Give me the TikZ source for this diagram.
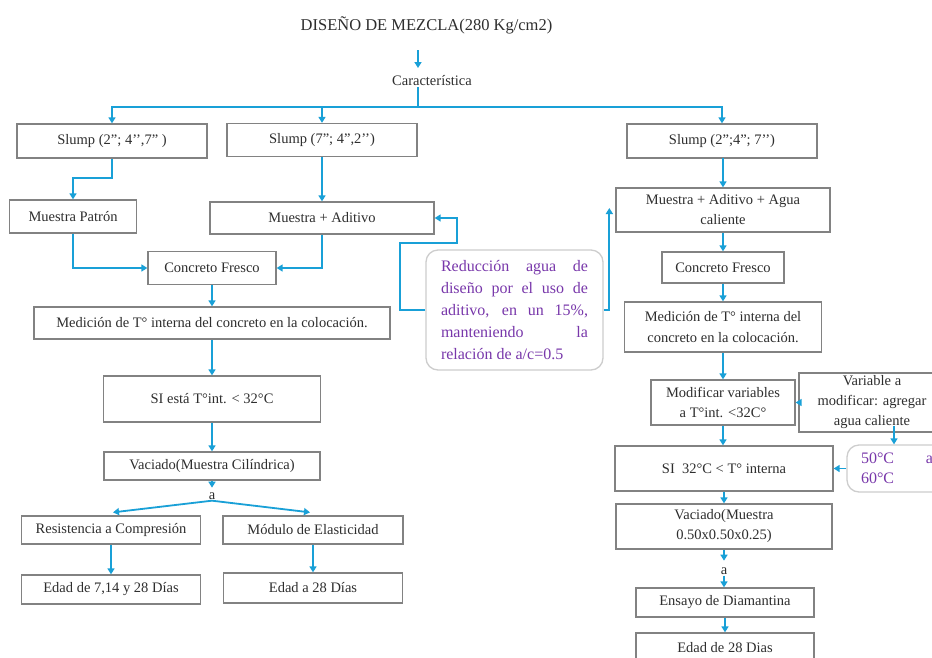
\documentclass[tikz,border=0pt]{standalone}
\usepackage{fontspec}
\setmainfont{Liberation Serif}
\usetikzlibrary{arrows.meta}
\definecolor{conn}{RGB}{25,160,215}
\definecolor{boxgray}{RGB}{130,130,130}
\definecolor{softgray}{RGB}{205,205,205}
\definecolor{purp}{RGB}{120,55,170}
\tikzset{
  box/.style={draw=boxgray, line width=1.3pt, fill=white, inner sep=1pt, align=center,
    font=\fontsize{14.5}{20}\selectfont, text=black!82},
  softbox/.style={draw=softgray, line width=1.3pt, fill=white, rounded corners=12pt, inner sep=1pt,
    align=justify, font=\fontsize{16}{22}\selectfont, text=purp},
  lbl/.style={inner sep=1pt, font=\fontsize{14.5}{18}\selectfont, text=black!82},
  ttl/.style={inner sep=1pt, font=\fontsize{16.5}{20}\selectfont, text=black!82},
  wire/.style={draw=conn, line width=1.8pt},
  arr/.style={wire, -{Triangle[length=6pt,width=7pt]}}
}
\begin{document}
\begin{tikzpicture}[x=1pt,y=-1pt]
\useasboundingbox (0,0) rectangle (932,657);
\clip (0,0) rectangle (932,657);
\fill[white] (0,0) rectangle (932,657);

% title
\node[ttl] (title) at (426.5,25) {DISEÑO DE MEZCLA(280 Kg/cm2)};
\node[lbl] (car) at (432,81) {Característica};
\coordinate (t1) at (418,50);
\coordinate (t2) at (418,68);
\coordinate (hub) at (418,107);

% left column
\node[box, minimum width=190pt, minimum height=34pt] (s1) at (112,141) {Slump (2”; 4’’,7” )};
\node[box, minimum width=190pt, minimum height=33pt] (s2) at (322,140) {Slump (7”; 4”,2’’)};
\node[box, minimum width=127pt, minimum height=33pt] (mp) at (73,216.5) {Muestra Patrón};
\node[box, minimum width=224pt, minimum height=32pt] (ma) at (322,218) {Muestra + Aditivo};
\node[box, minimum width=128pt, minimum height=33pt] (cf1) at (212,268) {Concreto Fresco};
\node[box, minimum width=356pt, minimum height=32pt] (med1) at (212,323) {Medición de T° interna del concreto en la colocación.};
\node[box, minimum width=217pt, minimum height=46pt] (si1) at (212,399) {SI está T°int. < 32°C};
\node[box, minimum width=216pt, minimum height=28pt] (vac1) at (212,466) {Vaciado(Muestra Cilíndrica)};
\node[lbl] (a1) at (212,496) {a};
\node[box, minimum width=179pt, minimum height=28pt] (res) at (111,530) {Resistencia a Compresión};
\node[box, minimum width=180pt, minimum height=28pt] (mod) at (313,530) {Módulo de Elasticidad};
\node[box, minimum width=179pt, minimum height=29pt] (ed1) at (111,589.5) {Edad de 7,14 y 28 Días};
\node[box, minimum width=179pt, minimum height=30pt] (ed2) at (313,588) {Edad a 28 Días};

% note
\node[softbox, minimum width=177pt, minimum height=120pt, text width=147pt] (red) at (514.5,310)
  {Reducción agua de\linebreak diseño por el uso de\linebreak aditivo, en un 15\%,\linebreak manteniendo la\linebreak relación de a/c=0.5};

% right column
\node[box, minimum width=190pt, minimum height=34pt] (s3) at (722,141) {Slump (2”;4”; 7’’)};
\node[box, minimum width=214pt, minimum height=44pt] (mac) at (723,210) {Muestra + Aditivo + Agua\\caliente};
\node[box, minimum width=122pt, minimum height=31pt] (cf2) at (723,267.5) {Concreto Fresco};
\node[box, minimum width=197pt, minimum height=50pt, font=\fontsize{14.5}{21}\selectfont] (med2) at (723,327) {Medición de T° interna del\\concreto en la colocación.};
\node[box, minimum width=144pt, minimum height=45pt] (modv) at (723,402.5) {Modificar variables\\a T°int. <32C°};
\node[box, minimum width=146pt, minimum height=59pt] (var) at (872,402.5) {Variable a\\modificar: agregar\\agua caliente};
\node[box, minimum width=218pt, minimum height=45pt] (si2) at (724,468.5) {SI\ \ 32°C < T° interna};
\node[softbox, minimum width=100pt, minimum height=47pt, text width=72pt, font=\fontsize{16}{20}\selectfont] (t50) at (897,468.5) {50°C a\linebreak 60°C};
\node[box, minimum width=216pt, minimum height=45pt] (vac2) at (724,526.5) {Vaciado(Muestra\\0.50x0.50x0.25)};
\node[lbl] (a2) at (724,571) {a};
\node[box, minimum width=178pt, minimum height=29pt] (ens) at (725,602.5) {Ensayo de Diamantina};
\node[box, minimum width=178pt, minimum height=30pt] (ed3) at (725,648) {Edad de 28 Dias};

% connectors top
\draw[arr] (t1) -- (t2);
\draw[wire] (car.south -| hub) -- (hub);
\draw[arr] (hub) -| (s1.north);
\draw[arr] (hub) -| (s3.north);
\draw[arr] (hub -| s2.north) -- (s2.north);

% left
\draw[arr] (s1.south) -- ++(0,19) -| (mp.north);
\draw[arr] (s2.south) -- (s2.south |- ma.north);
\draw[arr] (mp.south) |- (cf1.west);
\draw[arr] (ma.south) |- (cf1.east);
\draw[arr] (cf1.south) -- (cf1.south |- med1.north);
\draw[arr] (med1.south) -- (med1.south |- si1.north);
\draw[arr] (si1.south) -- (si1.south |- vac1.north);
\draw[arr] (vac1.south) -- ++(0,7);
\draw[arr] (a1.south) -- ([xshift=2pt,yshift=3pt]res.north);
\draw[arr] (a1.south) -- ([xshift=-3pt,yshift=3pt]mod.north);
\draw[arr] (res.south) -- (res.south |- ed1.north);
\draw[arr] (mod.south) -- (mod.south |- ed2.north);

% note connectors
\draw[arr] (red.west) -| ++(-25,-67) -- ++(57,0) |- (ma.east);
\draw[arr] (red.east) -| ([xshift=-6pt,yshift=2pt]mac.west);

% right
\draw[arr] (s3.south) -- (s3.south -| mac.north) -- (mac.north);
\draw[arr] (mac.south) -- (mac.south |- cf2.north);
\draw[arr] (cf2.south) -- (cf2.south |- med2.north);
\draw[arr] (med2.south) -- (med2.south |- modv.north);
\draw[arr] (var.west) -- (modv.east);
\draw[arr] ([xshift=22pt,yshift=7pt]var.south) -- ([xshift=22pt]var.south |- t50.north);
\draw[arr] (modv.south) -- (modv.south |- si2.north);
\draw[arr] (t50.west) -- (si2.east);
\draw[arr] (si2.south) -- (si2.south |- vac2.north);
\draw[arr] (vac2.south) -- ++(0,11);
\draw[arr] (a2.south) -- (a2.south |- ens.north);
\draw[arr] (ens.south) -- (ens.south |- ed3.north);
\end{tikzpicture}
\end{document}
